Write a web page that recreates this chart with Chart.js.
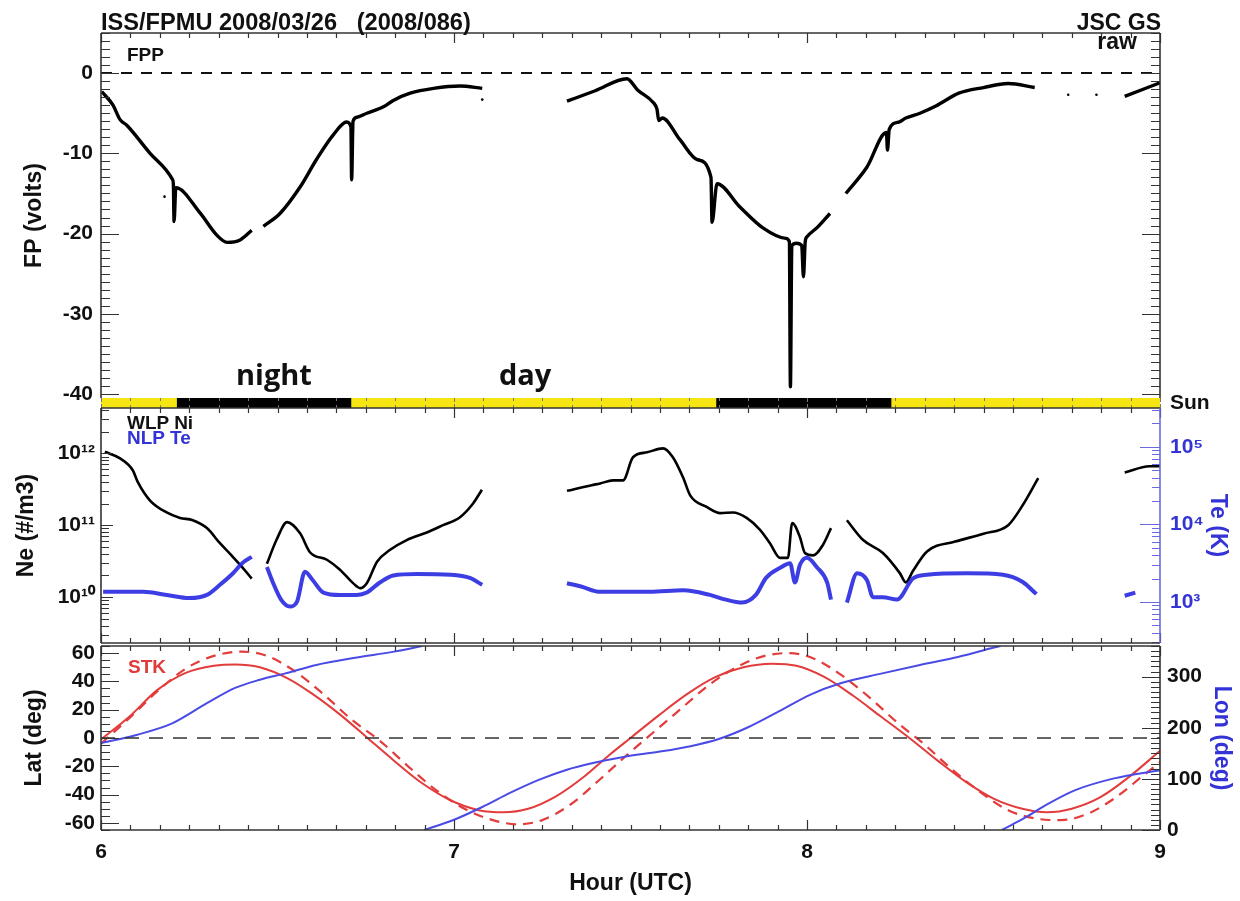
<!DOCTYPE html>
<html><head><meta charset="utf-8">
<script src="https://cdn.jsdelivr.net/npm/chart.js@4.4.1/dist/chart.umd.min.js"></script>
<style>
html,body{margin:0;padding:0;background:#fff;}
#wrap{position:relative;width:1240px;height:901px;overflow:hidden;background:#fff;font-family:"Liberation Sans",Arial,sans-serif;}
#wrap canvas{position:absolute;left:0;top:0;}
.lbl{position:absolute;white-space:pre;font-weight:bold;line-height:1;color:#111;}
</style></head><body>
<div id="wrap">
<canvas id="cFP" width="1240" height="901"></canvas>
<canvas id="cSun" width="1240" height="901"></canvas>
<canvas id="cNe" width="1240" height="901"></canvas>
<canvas id="cLat" width="1240" height="901"></canvas>
<div class="lbl" style="left:101px;top:11px;font-size:23.6px;">ISS/FPMU 2008/03/26   (2008/086)</div>
<div class="lbl" style="right:79px;top:11px;font-size:23px;">JSC GS</div>
<div class="lbl" style="right:103px;top:30px;font-size:23px;">raw</div>
<div class="lbl" style="left:127px;top:45px;font-size:19px;">FPP</div>
<div class="lbl" style="left:236px;top:359px;font-size:29px;font-family:'Open Sans',sans-serif;font-weight:700;">night</div>
<div class="lbl" style="left:499px;top:359px;font-size:29px;font-family:'Open Sans',sans-serif;font-weight:700;">day</div>
<div class="lbl" style="left:127px;top:413px;font-size:19px;">WLP Ni</div>
<div class="lbl" style="left:127px;top:428px;font-size:19px;color:#3434d6;">NLP Te</div>
<div class="lbl" style="left:128px;top:657px;font-size:19px;color:#e03a3a;">STK</div>
</div>
<script>
// ---------------- DATA ----------------
const hourTicks = [6, 7, 8, 9];

// Floating potential (V) vs hour; null = data gap
const fpHours = [6.002,6.034,6.054,6.073,6.139,6.203,6.205,6.207,6.212,6.280,6.328,6.357,6.394,6.427,
  6.445,
  6.460,6.507,6.564,6.610,6.658,6.696,6.708,6.710,6.714,6.725,6.753,6.800,6.828,6.876,6.942,7.017,7.080,
  7.200,
  7.320,7.400,7.490,7.520,7.565,7.575,7.580,7.590,7.640,7.690,7.728,7.731,7.745,7.810,7.875,7.940,7.950,7.953,7.957,7.970,7.985,7.990,7.995,8.000,8.030,8.065,
  8.090,
  8.110,8.170,8.225,8.228,8.233,8.260,8.280,8.320,8.365,8.430,8.500,8.570,8.645,
  8.750,
  8.900,9.000];
const fpVolts = [-2.3,-4.0,-5.8,-6.5,-10.0,-13.3,-13.8,-18.5,-14.3,-17.4,-20.2,-21.1,-20.8,-19.6,
  null,
  -19.1,-17.5,-14.2,-10.8,-7.7,-6.1,-6.7,-13.3,-6.0,-5.5,-5.0,-4.2,-3.4,-2.5,-1.9,-1.6,-1.9,
  null,
  -3.5,-2.2,-0.7,-2.1,-3.7,-4.5,-5.9,-5.6,-8.3,-10.8,-13.0,-18.6,-13.8,-16.7,-19.3,-20.6,-21.0,-39.1,-21.5,-21.2,-21.5,-25.4,-21.0,-20.4,-19.2,-17.5,
  null,
  -15.0,-11.7,-7.4,-9.6,-7.0,-6.1,-5.6,-5.0,-4.1,-2.5,-1.8,-1.3,-1.8,
  null,
  -2.9,-1.2];
const fpStrayHours = [6.18, 7.08, 8.74, 8.82];
const fpStrayVolts = [-15.4, -3.3, -2.7, -2.7];
const fpTickLabels = [-40, -30, -20, -10, 0];

// Sunlight indicator
const sunStart = [6.000, 6.214, 6.708, 7.742, 8.238];
const sunEnd   = [6.214, 6.708, 7.742, 8.238, 9.000];
const sunState = ['day', 'night', 'day', 'night', 'day'];

// WLP ion density (#/m3)
const neHours = [6.011,6.054,6.090,6.104,6.139,6.186,6.224,6.260,6.300,6.337,6.374,6.400,6.427,
  6.45,
  6.470,6.497,6.527,6.564,6.592,6.640,6.677,6.714,6.734,6.753,6.782,6.818,6.866,6.923,6.969,7.017,7.054,7.079,
  7.2,
  7.320,7.390,7.414,7.450,7.479,7.507,7.547,7.592,7.620,7.649,7.669,7.717,7.754,7.790,7.830,7.867,7.895,7.924,7.946,7.958,7.980,7.994,8.017,8.045,8.068,
  8.09,
  8.113,8.159,8.215,8.263,8.280,8.300,8.340,8.420,8.500,8.570,8.610,8.655,
  8.78,
  8.90,8.97,9.00];
const neValues = [1.05e12,8.5e11,5.8e11,4.0e11,2.2e11,1.5e11,1.26e11,1.17e11,9.1e10,5.6e10,3.6e10,2.6e10,1.8e10,
  null,
  2.9e10,6.2e10,1.1e11,7.7e10,4.2e10,3.3e10,2.4e10,1.56e10,1.33e10,1.56e10,3.1e10,4.5e10,6.2e10,7.9e10,1.0e11,1.29e11,2.0e11,3.1e11,
  null,
  3.0e11,3.6e11,3.8e11,4.2e11,4.2e11,8.8e11,1.03e12,1.17e12,8.8e11,4.6e11,2.6e11,1.78e11,1.47e11,1.5e11,1.25e11,8.6e10,5.6e10,3.5e10,3.5e10,1.07e11,6.8e10,4.1e10,3.8e10,5.3e10,9.1e10,
  null,
  1.17e11,6.2e10,4.1e10,2.15e10,1.6e10,2.3e10,4.3e10,5.9e10,7.6e10,1.0e11,1.86e11,4.5e11,
  null,
  5.4e11,6.6e11,6.6e11];
const neTickLabels = [1e10, 1e11, 1e12];

// NLP electron temperature (K)
const teHours = [6.006,6.054,6.120,6.186,6.250,6.300,6.337,6.374,6.400,6.427,
  6.445,
  6.470,6.487,6.510,6.535,6.555,6.578,6.600,6.630,6.677,6.725,6.753,6.790,6.828,6.895,6.990,7.045,7.080,
  7.2,
  7.320,7.360,7.414,7.480,7.555,7.650,7.725,7.770,7.816,7.855,7.884,7.924,7.952,7.966,7.980,8.000,8.028,8.057,8.068,
  8.09,
  8.113,8.142,8.170,8.187,8.215,8.255,8.300,8.340,8.455,8.555,8.610,8.650,
  8.8,
  8.90,8.93];
const teValues = [1350,1350,1350,1230,1120,1230,1660,2340,3160,3800,
  null,
  2820,1780,1070,870,1000,2450,1900,1320,1230,1230,1320,1780,2190,2290,2240,2040,1660,
  null,
  1740,1580,1350,1350,1350,1410,1230,1070,980,1230,2040,2750,3160,1780,3000,3700,2800,1780,1070,
  null,
  980,2340,1900,1150,1150,1070,2000,2240,2340,2240,1820,1260,
  null,
  1200,1320];
const teTickLabels = [1e3, 1e4, 1e5];

// Latitude (deg): STK solid and dashed
const latHours = [6.00,6.08,6.16,6.24,6.32,6.38,6.45,6.53,6.60,6.68,6.755,6.83,6.91,6.99,7.07,7.14,7.21,7.29,7.37,7.44,
  7.50,7.58,7.66,7.74,7.82,7.90,7.97,8.05,8.13,8.21,8.29,8.37,8.45,8.53,8.61,8.68,8.75,8.83,8.91,9.00];
const latStk = [-1,15,34,46,51,52,50,42,31,16,0,-16,-32,-44,-51,-52.5,-50,-41,-27,-12,
  0,16,31,43,50,52.5,51,43,30,15,0,-16,-31,-43,-50,-52.5,-50,-42,-28,-9];
const latDashHours = [6.00,6.08,6.16,6.24,6.32,6.40,6.47,6.55,6.63,6.71,6.79,6.87,6.95,7.03,7.11,7.18,7.25,7.33,7.41,7.49,
  7.56,7.64,7.72,7.80,7.88,7.95,8.02,8.10,8.18,8.26,8.33,8.41,8.49,8.57,8.65,8.72,8.80,8.88,8.95,9.00];
const latDash = [-4,14,33,49,58,61,58,47,31,13,-2,-20,-37,-50,-58,-61,-58,-47,-30,-12,
  3,20,37,50,58,60,56,44,28,10,-4,-22,-38,-51,-57,-58,-53,-41,-27,-17];
const latTickLabels = [-60, -40, -20, 0, 20, 40, 60];

// Longitude (deg), wraps at 360
const lonHours = [6.00,6.10,6.20,6.30,6.38,6.45,6.52,6.61,6.72,6.83,6.91,
  6.912,
  6.915,7.00,7.08,7.16,7.24,7.32,7.40,7.48,7.58,7.67,7.75,7.83,7.92,8.01,8.095,8.21,8.32,8.43,8.53,8.548,
  8.550,
  8.552,8.62,8.68,8.76,8.87,9.00];
const lonValues = [170,186,208,248,278,294,306,323,337,349,360,
  null,
  0,20,45,73,98,118,132,143,153,164,178,200,232,265,287,306,323,339,357,360,
  null,
  0,25,50,78,101,117];
const lonTickLabels = [0, 100, 200, 300];

// ---------------- HELPERS ----------------
const pts = (xs, ys) => xs.map((x, i) => ({x: x, y: ys[i]}));
const SUP = {'0':'\u2070','1':'\u00b9','2':'\u00b2','3':'\u00b3','4':'\u2074','5':'\u2075','6':'\u2076','7':'\u2077','8':'\u2078','9':'\u2079'};
const pow10Label = v => '10' + String(Math.round(Math.log10(v))).split('').map(c => SUP[c]).join('');
function linMarks(min, max, step, majorStep) {
  const out = [];
  const n0 = Math.ceil(min / step - 1e-9), n1 = Math.floor(max / step + 1e-9);
  for (let i = n0; i <= n1; i++) {
    const v = +(i * step).toFixed(6), r = v / majorStep;
    out.push({v: v, major: Math.abs(r - Math.round(r)) < 1e-6});
  }
  return out;
}
function logMarks(e0, e1) {
  const out = [];
  for (let e = Math.floor(e0); e <= Math.ceil(e1); e++)
    for (let k = 1; k <= 9; k++) {
      const v = k * Math.pow(10, e), lv = Math.log10(v);
      if (lv >= e0 && lv <= e1) out.push({v: v, major: k === 1});
    }
  return out;
}

const FONT = '"Liberation Sans", Arial, sans-serif';
Chart.defaults.font.family = FONT;
const BLUE = '#3434d6';
const tickFont = {family: FONT, size: 21, weight: 'bold'};
const titleFont = {family: FONT, size: 23, weight: 'bold'};

const frameTicks = {
  id: 'frameTicks',
  afterDraw(chart, args, o) {
    const ctx = chart.ctx, a = chart.chartArea;
    ctx.save();
    (o.axes || []).forEach(ax => {
      const s = chart.scales[ax.scale];
      ctx.strokeStyle = ax.color || '#222';
      ctx.lineWidth = ax.width || 1.2;
      ctx.beginPath();
      ax.marks.forEach(m => {
        const p = Math.round(s.getPixelForValue(m.v)) + 0.5;
        const len = m.major ? ax.majorLen : ax.minorLen;
        ax.sides.forEach(side => {
          if (side === 'left') { ctx.moveTo(a.left, p); ctx.lineTo(a.left + len, p); }
          if (side === 'right') { ctx.moveTo(a.right, p); ctx.lineTo(a.right - len, p); }
          if (side === 'top') { ctx.moveTo(p, a.top); ctx.lineTo(p, a.top + len); }
          if (side === 'bottom') { ctx.moveTo(p, a.bottom); ctx.lineTo(p, a.bottom - len); }
        });
      });
      ctx.stroke();
    });
    if (o.frame) {
      const f = o.frame;
      ctx.lineWidth = 1.6;
      const seg = (c, x1, y1, x2, y2) => { if (!c) return; ctx.strokeStyle = c; ctx.beginPath(); ctx.moveTo(x1, y1); ctx.lineTo(x2, y2); ctx.stroke(); };
      seg(f.top, a.left, a.top, a.right, a.top);
      seg(f.bottom, a.left, a.bottom, a.right, a.bottom);
      seg(f.left, a.left, a.top, a.left, a.bottom);
      seg(f.right, a.right, a.top, a.right, a.bottom);
    }
    ctx.restore();
  }
};
Chart.register(frameTicks);

const hiddenX = {type: 'linear', min: 6, max: 9, display: false};
const xMarks = linMarks(6, 9, 1 / 12, 1);
const common = {responsive: false, animation: false, events: [], maintainAspectRatio: false};
const noLegend = {legend: {display: false}, tooltip: {enabled: false}};
const leftAxis = (extra) => Object.assign({
  position: 'left',
  afterFit: s => { s.width = 101; s.paddingTop = 0; s.paddingBottom = 0; },
  grid: {display: false, drawTicks: false},
  border: {display: false},
}, extra);
const rightAxis = (extra) => Object.assign({
  position: 'right',
  afterFit: s => { s.width = 80; s.paddingTop = 0; s.paddingBottom = 0; },
  grid: {display: false, drawTicks: false},
  border: {display: false},
}, extra);

// ---------------- FP PANEL ----------------
new Chart(document.getElementById('cFP'), {
  type: 'line',
  data: {datasets: [
    {data: [{x: 6, y: 0}, {x: 9, y: 0}], borderColor: '#111', borderWidth: 2, borderDash: [11, 9], pointRadius: 0},
    {data: pts(fpHours, fpVolts), borderColor: '#000', borderWidth: 3.4, pointRadius: 0, cubicInterpolationMode: 'monotone', spanGaps: false},
    {type: 'scatter', data: pts(fpStrayHours, fpStrayVolts), pointRadius: 1.3, backgroundColor: '#000', borderWidth: 0}
  ]},
  options: Object.assign({}, common, {
    layout: {padding: {left: 0, right: 80, top: 33, bottom: 901 - 398}},
    plugins: Object.assign({}, noLegend, {frameTicks: {
      frame: {top: '#333', left: '#333', right: '#333'},
      axes: [
        {scale: 'x', sides: ['top'], marks: xMarks, majorLen: 10, minorLen: 5, color: '#333'},
        {scale: 'y', sides: ['left', 'right'], marks: linMarks(-40.5, 5, 1, 10), majorLen: 18, minorLen: 9, color: '#333'}
      ]}}),
    scales: {
      x: hiddenX,
      y: leftAxis({type: 'linear', min: -40.5, max: 5,
        afterBuildTicks: s => { s.ticks = fpTickLabels.map(v => ({value: v})); },
        ticks: {font: tickFont, color: '#111', padding: 8},
        title: {display: true, text: 'FP (volts)', font: titleFont, color: '#111', padding: {top: 21, bottom: 0}}})
    }
  })
});

// ---------------- SUN BAR ----------------
new Chart(document.getElementById('cSun'), {
  type: 'bar',
  data: {labels: ['Sun'], datasets: sunStart.map((s, i) => ({
    data: [[s, sunEnd[i]]],
    backgroundColor: sunState[i] === 'night' ? '#000000' : '#f6e512',
    borderWidth: 0, barPercentage: 1, categoryPercentage: 1, grouped: false
  }))},
  options: Object.assign({}, common, {
    indexAxis: 'y',
    layout: {padding: {left: 101, right: 0, top: 398, bottom: 901 - 408}},
    plugins: Object.assign({}, noLegend, {frameTicks: {
      axes: [{scale: 'x', sides: ['top', 'bottom'], marks: xMarks, majorLen: 4, minorLen: 3, color: '#777', width: 1}]}}),
    scales: {
      x: hiddenX,
      y: rightAxis({type: 'category',
        ticks: {font: tickFont, color: '#111', padding: 10}})
    }
  })
});

// ---------------- Ne / Te PANEL ----------------
const neMin = Math.pow(10, 9.36), neMax = Math.pow(10, 12.63);
const teMin = Math.pow(10, 2.47), teMax = Math.pow(10, 5.50);
new Chart(document.getElementById('cNe'), {
  type: 'line',
  data: {datasets: [
    {data: pts(teHours, teValues), yAxisID: 'yTe', borderColor: 'rgba(40,40,225,0.9)', borderWidth: 4, pointRadius: 0, cubicInterpolationMode: 'monotone', spanGaps: false},
    {data: pts(neHours, neValues), yAxisID: 'yNe', borderColor: '#000', borderWidth: 2.6, pointRadius: 0, cubicInterpolationMode: 'monotone', spanGaps: false}
  ]},
  options: Object.assign({}, common, {
    layout: {padding: {left: 0, right: 0, top: 408, bottom: 901 - 643}},
    plugins: Object.assign({}, noLegend, {frameTicks: {
      frame: {top: '#333', bottom: '#333', left: '#333', right: '#6a6ae0'},
      axes: [
        {scale: 'x', sides: ['top', 'bottom'], marks: xMarks, majorLen: 10, minorLen: 5, color: '#333'},
        {scale: 'yNe', sides: ['left'], marks: logMarks(9.36, 12.63), majorLen: 12, minorLen: 8, color: '#333'},
        {scale: 'yTe', sides: ['right'], marks: logMarks(2.47, 5.50), majorLen: 20, minorLen: 8, color: '#6a6ae0'}
      ]}}),
    scales: {
      x: hiddenX,
      yNe: leftAxis({type: 'logarithmic', min: neMin, max: neMax,
        afterBuildTicks: s => { s.ticks = neTickLabels.map(v => ({value: v})); },
        ticks: {font: tickFont, color: '#111', padding: 6, callback: v => pow10Label(v)},
        title: {display: true, text: 'Ne (#/m3)', font: titleFont, color: '#111', padding: {top: 13, bottom: 0}}}),
      yTe: rightAxis({type: 'logarithmic', min: teMin, max: teMax,
        afterBuildTicks: s => { s.ticks = teTickLabels.map(v => ({value: v})); },
        ticks: {font: tickFont, color: BLUE, padding: 10, callback: v => pow10Label(v)},
        title: {display: true, text: 'Te (K)', font: titleFont, color: BLUE, padding: {top: 9, bottom: 0}}})
    }
  })
});

// ---------------- LAT / LON PANEL ----------------
new Chart(document.getElementById('cLat'), {
  type: 'line',
  data: {datasets: [
    {data: [{x: 6, y: 0}, {x: 9, y: 0}], yAxisID: 'yLat', borderColor: '#333', borderWidth: 1.6, borderDash: [14, 10], pointRadius: 0},
    {data: pts(lonHours, lonValues), yAxisID: 'yLon', borderColor: '#4a4ae6', borderWidth: 2, pointRadius: 0, cubicInterpolationMode: 'monotone', spanGaps: false},
    {data: pts(latDashHours, latDash), yAxisID: 'yLat', borderColor: '#e23c3c', borderWidth: 2.2, borderDash: [10, 7], pointRadius: 0, cubicInterpolationMode: 'monotone'},
    {data: pts(latHours, latStk), yAxisID: 'yLat', borderColor: '#e23c3c', borderWidth: 2, pointRadius: 0, cubicInterpolationMode: 'monotone'}
  ]},
  options: Object.assign({}, common, {
    layout: {padding: {left: 0, right: 0, top: 646, bottom: 0}},
    plugins: Object.assign({}, noLegend, {frameTicks: {
      frame: {top: '#333', bottom: '#333', left: '#333', right: '#333'},
      axes: [
        {scale: 'x', sides: ['top', 'bottom'], marks: xMarks, majorLen: 10, minorLen: 5, color: '#333'},
        {scale: 'yLat', sides: ['left'], marks: linMarks(-65, 65, 5, 20), majorLen: 18, minorLen: 9, color: '#333'},
        {scale: 'yLon', sides: ['right'], marks: linMarks(0, 360, 10, 100), majorLen: 18, minorLen: 9, color: '#333'}
      ]}}),
    scales: {
      x: {type: 'linear', min: 6, max: 9, position: 'bottom',
        afterBuildTicks: s => { s.ticks = hourTicks.map(v => ({value: v})); },
        afterFit: s => { s.height = 71; },
        grid: {display: false, drawTicks: false}, border: {display: false},
        ticks: {font: tickFont, color: '#111', padding: 10, maxRotation: 0, callback: v => String(v)},
        title: {display: true, text: 'Hour (UTC)', font: titleFont, color: '#111', padding: {top: 0, bottom: 4}}},
      yLat: leftAxis({type: 'linear', min: -65, max: 65,
        afterBuildTicks: s => { s.ticks = latTickLabels.map(v => ({value: v})); },
        ticks: {font: tickFont, color: '#111', padding: 6},
        title: {display: true, text: 'Lat (deg)', font: titleFont, color: '#111', padding: {top: 21, bottom: 0}}}),
      yLon: rightAxis({type: 'linear', min: 0, max: 360,
        afterBuildTicks: s => { s.ticks = lonTickLabels.map(v => ({value: v})); },
        ticks: {font: tickFont, color: '#111', padding: 7},
        title: {display: true, text: 'Lon (deg)', font: titleFont, color: BLUE, padding: {top: 5, bottom: 0}}})
    }
  })
});
</script>
</body></html>
